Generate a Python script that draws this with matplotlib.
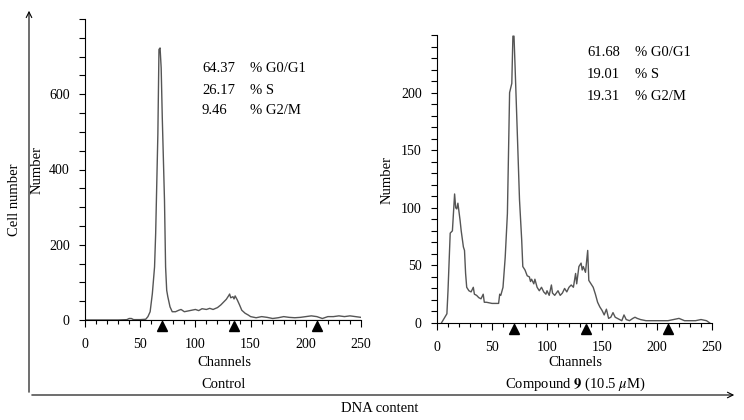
import matplotlib
matplotlib.use("Agg")
import matplotlib.pyplot as plt
from matplotlib.ticker import MultipleLocator
from matplotlib.patches import FancyArrowPatch
from matplotlib.transforms import ScaledTranslation

plt.rcParams['font.family'] = ['Liberation Serif', 'DejaVu Serif']
plt.rcParams['mathtext.fontset'] = 'stix'

# ---- Data: Control histogram (channel, count) ----
ctrl_ch = [0, 10, 20, 30, 38, 40, 42, 44, 50, 55, 57, 59, 61, 63, 64, 66, 67, 68, 69, 70,
           72, 73, 74, 75, 77, 79, 82, 85, 87, 90, 95, 100, 103, 106, 110, 113, 116, 120,
           123, 126, 128, 130, 131, 132, 134, 135, 136, 138, 140, 142, 145, 148, 150, 155,
           160, 165, 170, 175, 180, 185, 190, 195, 200, 205, 210, 215, 220, 225, 230, 235,
           240, 245, 250]
ctrl_val = [0, 0, 0, 0, 1, 4, 4, 1, 1, 2, 9, 22, 70, 141, 229, 494, 719, 723, 670, 538,
            318, 141, 79, 62, 35, 22, 22, 26, 28, 22, 25, 28, 25, 30, 28, 31, 28, 33,
            40, 49, 55, 64, 69, 59, 62, 56, 64, 53, 40, 26, 18, 13, 9, 6,
            9, 7, 4, 6, 9, 7, 6, 7, 9, 11, 9, 4, 9, 9, 11, 9,
            11, 9, 7]

# ---- Data: Compound 9 histogram (channel, count) ----
cmp_ch = [4, 9, 10, 12, 14, 16, 17, 18, 19, 21, 22, 24, 25, 26, 27, 29, 31, 33, 34, 36,
          38, 40, 42, 43, 45, 50, 56, 57, 58, 60, 62, 64, 65, 66, 68, 69, 70, 71, 73, 75,
          77, 78, 80, 82, 84, 85, 86, 88, 89, 91, 93, 95, 97, 99, 100, 102, 104, 105, 107,
          110, 112, 114, 116, 118, 120, 122, 124, 126, 127, 129, 131, 132, 133, 135, 137,
          138, 140, 142, 144, 146, 148, 150, 152, 154, 156, 158, 160, 162, 164, 166, 168,
          170, 172, 175, 178, 180, 182, 185, 190, 195, 200, 205, 210, 215, 220, 225, 230,
          235, 240, 245, 248]
cmp_val = [0, 8, 28, 78, 80, 112, 100, 99, 104, 89, 80, 66, 63, 43, 31, 28, 27, 31, 25, 24,
           22, 21, 25, 18, 18, 17, 17, 25, 24, 31, 57, 95, 147, 200, 208, 249, 249, 222, 165, 107,
           72, 49, 46, 41, 40, 36, 38, 34, 38, 31, 28, 31, 27, 25, 28, 24, 33, 26, 24,
           28, 24, 26, 30, 27, 31, 33, 31, 43, 34, 49, 52, 46, 49, 44, 63,
           37, 34, 31, 25, 18, 14, 11, 7, 12, 4, 5, 9, 5, 4, 3, 2,
           7, 3, 2, 4, 5, 4, 3, 2, 2, 2, 2, 2, 3, 4, 2, 2,
           2, 3, 2, 0]

markers_ch = [70, 135, 210]
ctrl_stats = ["64.37", "26.17", "9.46"]
cmp_stats = ["61.68", "19.01", "19.31"]
phase_labels = ["% G0/G1", "% S", "% G2/M"]

W, H = 744, 420
fig = plt.figure(figsize=(W / 100, H / 100), dpi=100)

def fx(px):
    return px / W

def fy(py):
    return 1 - py / H

line_col = '#555555'

def setup(ax, ymax, major, minor):
    ax.set_xlim(0, 250)
    ax.set_ylim(0, ymax)
    for s in ['top', 'right']:
        ax.spines[s].set_visible(False)
    ax.spines['left'].set_linewidth(0.8)
    ax.spines['bottom'].set_linewidth(0.8)
    ax.xaxis.set_major_locator(MultipleLocator(50))
    ax.xaxis.set_minor_locator(MultipleLocator(10))
    ax.yaxis.set_major_locator(MultipleLocator(major))
    ax.yaxis.set_minor_locator(MultipleLocator(minor))
    ax.tick_params(axis='x', which='major', length=5, width=0.8, direction='out', labelsize=10, pad=8)
    ax.tick_params(axis='x', which='minor', length=3, width=0.8, direction='out')
    ax.tick_params(axis='y', which='major', length=4, width=0.8, direction='out', labelsize=10, pad=7)
    ax.tick_params(axis='y', which='minor', length=4, width=0.8, direction='out')
    ax.set_facecolor('none')

def add_markers(ax):
    off = ScaledTranslation(0, -4.2 / 72, fig.dpi_scale_trans)
    ax.plot(markers_ch, [0] * 3, marker='^', ls='none', color='black', markersize=6.5,
            transform=ax.get_xaxis_transform() + off, clip_on=False)

# Left panel
ax1 = fig.add_axes([fx(85), fy(320), fx(361) - fx(85), fy(19) - fy(320)])
setup(ax1, 800, 200, 50)
ax1.plot(ctrl_ch, ctrl_val, color=line_col, lw=1.0)
ax1.plot([0, 250], [0, 0], color='black', lw=0.8)
ax1.set_yticks([0, 200, 400, 600])
add_markers(ax1)
for i, (v, lab) in enumerate(zip(ctrl_stats, phase_labels)):
    fig.text(fx(202), fy(69 + 21 * i), v, fontsize=10.5, va='center', ha='left')
    fig.text(fx(250), fy(69 + 21 * i), lab, fontsize=10.5, va='center', ha='left')

# Right panel
ax2 = fig.add_axes([fx(437), fy(323), fx(712) - fx(437), fy(35) - fy(323)])
setup(ax2, 250, 50, 10)
ax2.plot(cmp_ch, cmp_val, color=line_col, lw=1.0)
ax2.set_yticks([0, 50, 100, 150, 200])
add_markers(ax2)
for i, (v, lab) in enumerate(zip(cmp_stats, phase_labels)):
    fig.text(fx(587), fy(53 + 22 * i), v, fontsize=10.5, va='center', ha='left')
    fig.text(fx(635), fy(53 + 22 * i), lab, fontsize=10.5, va='center', ha='left')

# Panel labels
fig.text(fx(37), fy(170), "Number", rotation=90, fontsize=10.5, ha='center', va='center')
fig.text(fx(387), fy(180), "Number", rotation=90, fontsize=10.5, ha='center', va='center')
fig.text(fx(224), fy(362), "Channels", fontsize=10.5, ha='center', va='center')
fig.text(fx(224), fy(384), "Control", fontsize=10.5, ha='center', va='center')
fig.text(fx(575), fy(363), "Channels", fontsize=10.5, ha='center', va='center')
fig.text(fx(575), fy(384), r"Compound $\mathbf{9}$ (10.5 $\mu$M)", fontsize=10.5, ha='center', va='center')
fig.text(fx(14), fy(200), "Cell number", rotation=90, fontsize=10.5, ha='center', va='center')
fig.text(fx(380), fy(408), "DNA content", fontsize=10.5, ha='center', va='center')

# Outer arrows
fig.add_artist(FancyArrowPatch((fx(29), fy(395)), (fx(29), fy(8)), transform=fig.transFigure,
                               arrowstyle='->', mutation_scale=10, lw=0.8, color='black'))
fig.add_artist(FancyArrowPatch((fx(29), fy(395)), (fx(737), fy(395)), transform=fig.transFigure,
                               arrowstyle='->', mutation_scale=10, lw=0.8, color='black'))

fig.savefig("out.png", dpi=100)
